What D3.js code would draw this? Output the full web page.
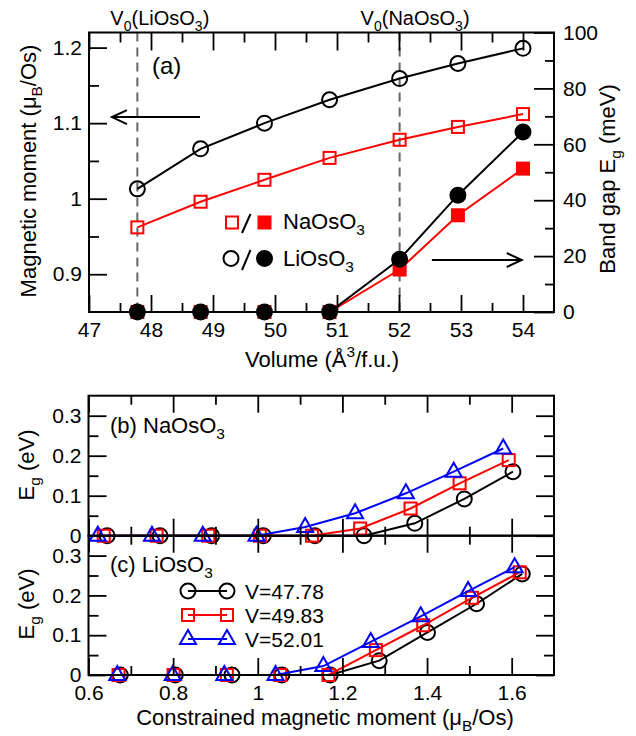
<!DOCTYPE html>
<html>
<head>
<meta charset="utf-8">
<script src="https://cdn.jsdelivr.net/npm/d3@7"></script>
<style>
  body { margin: 0; background: #fff; }
  svg text { font-family: "Liberation Sans", Arial, sans-serif; fill: #000; }
</style>
</head>
<body>
<svg id="chart" width="636" height="736"></svg>
<script>
// panel (a): volume scan
const volume = [47.78, 48.8, 49.83, 50.88, 52.01, 52.95, 54.0];
const momentNa = [0.962, 0.996, 1.025, 1.054, 1.078, 1.095, 1.112];
const momentLi = [1.013, 1.066, 1.100, 1.131, 1.159, 1.179, 1.199];
const gapNa = [0, 0, 0, 0, 15.2, 34.6, 51.3];   // meV
const gapLi = [0, 0, 0, 0, 18.9, 41.8, 64.4];   // meV
const v0Marks = [47.78, 52.01];
const v0Names = ["LiOsO", "NaOsO"];

// panels (b),(c): gap vs constrained moment, three volumes
const volLabels = ["V=47.78", "V=49.83", "V=52.01"];
const naM = [
  [0.644, 0.769, 0.891, 1.013, 1.135, 1.251, 1.371, 1.488, 1.603],
  [0.636, 0.761, 0.883, 1.005, 1.128, 1.242, 1.361, 1.477, 1.593],
  [0.622, 0.750, 0.870, 0.997, 1.112, 1.230, 1.350, 1.463, 1.580]
];
const naGap = [
  [0, 0, 0, 0, 0, 0, 0.031, 0.092, 0.160],
  [0, 0, 0, 0, 0, 0.018, 0.068, 0.131, 0.189],
  [0, 0, 0, 0, 0.022, 0.056, 0.106, 0.160, 0.218]
];
const liM = [
  [0.675, 0.805, 0.939, 1.057, 1.171, 1.287, 1.401, 1.517, 1.625],
  [0.671, 0.801, 0.927, 1.053, 1.167, 1.279, 1.391, 1.506, 1.619],
  [0.668, 0.799, 0.921, 1.042, 1.155, 1.267, 1.385, 1.497, 1.607]
];
const liGap = [
  [0, 0, 0, 0, 0, 0.036, 0.107, 0.179, 0.254],
  [0, 0, 0, 0, 0, 0.0625, 0.125, 0.194, 0.258],
  [0, 0, 0, 0, 0.0225, 0.083, 0.1475, 0.211, 0.271]
];

const colors = ["#000000", "#ff0000", "#0000ff"];
const shapes = ["circle", "square", "triangle"];
const FS = 21;

const svg = d3.select("#chart");
svg.append("rect").attr("width", 636).attr("height", 736).attr("fill", "#fff");

const fmt = d => String(+d.toFixed(2));

// text with sub/superscripts: parts = [[string, kind]]
function rich(sel, parts, size) {
  let shift = 0;
  parts.forEach(([s, k]) => {
    const target = k === "sub" ? 0.28 * size : k === "sup" ? -0.45 * size : 0;
    sel.append("tspan")
      .attr("dy", target - shift)
      .attr("font-size", k === "n" ? size : size * 0.7)
      .text(s);
    shift = target;
  });
  return sel;
}

function marker(g, shape, cx, cy, col, filled) {
  const fill = filled ? col : "none";
  if (shape === "circle") {
    g.append("circle").attr("cx", cx).attr("cy", cy).attr("r", filled ? 7.5 : 7.5)
      .attr("fill", fill).attr("stroke", col).attr("stroke-width", 2);
  } else if (shape === "square") {
    const s = 12;
    g.append("rect").attr("x", cx - s / 2).attr("y", cy - s / 2).attr("width", s).attr("height", s)
      .attr("fill", fill).attr("stroke", col).attr("stroke-width", 2);
  } else {
    g.append("path").attr("d", `M${cx},${cy - 9}L${cx + 8},${cy + 5}L${cx - 8},${cy + 5}Z`)
      .attr("fill", fill).attr("stroke", col).attr("stroke-width", 2);
  }
}

// draw inward ticks with d3 axes
function axis(g, gen, scale, pos, values, size, labels, pad) {
  const a = gen(scale).tickValues(values).tickSize(-size).tickPadding(pad || 6)
    .tickFormat(labels ? fmt : "");
  const ag = g.append("g").attr("transform", pos).call(a);
  ag.select(".domain").remove();
  ag.selectAll(".tick line").attr("stroke", "#000").attr("stroke-width", 1.8);
  ag.selectAll(".tick text").attr("font-size", FS)
    .attr("font-family", "Liberation Sans, Arial, sans-serif").attr("fill", "#000");
  return ag;
}

// ---------------- panel (a) ----------------
const A = { l: 89, r: 554, t: 32.5, b: 312 };
const xA = d3.scaleLinear().domain([47, 54.5]).range([A.l, A.r]);
const yL = d3.scaleLinear().domain([0.85, 1.22]).range([A.b, A.t]);
const yR = d3.scaleLinear().domain([0, 100]).range([A.b, A.t]);
const gA = svg.append("g");

// dashed V0 markers
v0Marks.forEach((v, i) => {
  gA.append("line").attr("x1", xA(v)).attr("x2", xA(v)).attr("y1", A.t).attr("y2", A.b)
    .attr("stroke", "#666").attr("stroke-width", 2).attr("stroke-dasharray", "9,6");
  const t = gA.append("text").attr("x", xA(v) - (i === 0 ? 27 : 39)).attr("y", 25);
  rich(t, [["V", "n"], ["0", "sub"], ["(" + v0Names[i], "n"], ["3", "sub"], [")", "n"]], 20);
});

const lineA = d3.line().x((d, i) => xA(volume[i]));
function seriesA(vals, yS, col, shape, filled) {
  gA.append("path").datum(vals)
    .attr("d", lineA.y(d => yS(d)))
    .attr("fill", "none").attr("stroke", col).attr("stroke-width", 2);
  vals.forEach((v, i) => marker(gA, shape, xA(volume[i]), yS(v), col, filled));
}
seriesA(momentLi, yL, "#000", "circle", false);
seriesA(momentNa, yL, "#ff0000", "square", false);
seriesA(gapNa, yR, "#ff0000", "square", true);
seriesA(gapLi, yR, "#000", "circle", true);

gA.append("rect").attr("x", A.l).attr("y", A.t).attr("width", A.r - A.l).attr("height", A.b - A.t)
  .attr("fill", "none").attr("stroke", "#000").attr("stroke-width", 2);

const xMajA = d3.range(47, 54.5, 1), xMinA = d3.range(47.5, 54.5, 1);
axis(gA, d3.axisBottom, xA, `translate(0,${A.b})`, xMajA, 17, true, 10);
axis(gA, d3.axisBottom, xA, `translate(0,${A.b})`, xMinA, 9, false);
axis(gA, d3.axisTop, xA, `translate(0,${A.t})`, xMajA, 18, false);
axis(gA, d3.axisTop, xA, `translate(0,${A.t})`, xMinA, 10, false);
axis(gA, d3.axisLeft, yL, `translate(${A.l},0)`, [0.9, 1.0, 1.1, 1.2], 18, true, 7);
axis(gA, d3.axisLeft, yL, `translate(${A.l},0)`, [0.95, 1.05, 1.15], 10, false);
axis(gA, d3.axisRight, yR, `translate(${A.r},0)`, d3.range(0, 101, 20), 20, true, 9);
axis(gA, d3.axisRight, yR, `translate(${A.r},0)`, d3.range(10, 100, 20), 9, false);

// arrows
function arrow(x1, x2, y) {
  const dir = x2 > x1 ? -1 : 1;
  gA.append("path")
    .attr("d", `M${x1},${y}L${x2},${y}M${x2 + dir * 15},${y - 7}L${x2},${y}L${x2 + dir * 15},${y + 7}`)
    .attr("fill", "none").attr("stroke", "#000").attr("stroke-width", 2);
}
arrow(xA(48.79), xA(47.37), yL(1.108));
arrow(xA(52.53), xA(53.98), yR(18.6));

gA.append("text").attr("x", 152).attr("y", 74).attr("font-size", 24).text("(a)");

// legend (a)
marker(gA, "square", 232, 222.5, "#ff0000", false);
marker(gA, "square", 264.5, 222.5, "#ff0000", true);
marker(gA, "circle", 231, 258.5, "#000", false);
marker(gA, "circle", 264.5, 258.5, "#000", true);
gA.append("line").attr("x1", 242).attr("y1", 233).attr("x2", 250.5).attr("y2", 214).attr("stroke", "#000").attr("stroke-width", 2);
gA.append("line").attr("x1", 242).attr("y1", 270).attr("x2", 250.5).attr("y2", 250).attr("stroke", "#000").attr("stroke-width", 2);
rich(gA.append("text").attr("x", 283).attr("y", 229), [["NaOsO", "n"], ["3", "sub"]], 22);
rich(gA.append("text").attr("x", 283).attr("y", 266), [["LiOsO", "n"], ["3", "sub"]], 22);

// axis titles (a)
rich(gA.append("text").attr("text-anchor", "middle").attr("transform", "translate(36,171) rotate(-90)"),
  [["Magnetic moment (μ", "n"], ["B", "sub"], ["/Os)", "n"]], 22);
rich(gA.append("text").attr("text-anchor", "middle").attr("transform", "translate(615,179) rotate(-90)"),
  [["Band gap E", "n"], ["g", "sub"], [" (meV)", "n"]], 22);
rich(gA.append("text").attr("text-anchor", "middle").attr("x", 322).attr("y", 367),
  [["Volume (Å", "n"], ["3", "sup"], ["/f.u.)", "n"]], 22);

// ---------------- panels (b), (c) ----------------
const xB = d3.scaleLinear().domain([0.6, 1.7]).range([88.5, 554]);
const panels = [
  { t: 395.7, b: 535.7, m: naM, g: naGap, label: "(b) NaOsO", ty: 433, cy: 465 },
  { t: 535.7, b: 675, m: liM, g: liGap, label: "(c) LiOsO", ty: 572, cy: 604 }
];
panels.forEach((p, pi) => {
  const y = d3.scaleLinear().domain([0, 0.35]).range([p.b, p.t]);
  const g = svg.append("g");
  p.m.forEach((xs, s) => {
    const pts = xs.map((x, i) => [x, p.g[s][i]]);
    g.append("path").datum(pts)
      .attr("d", d3.line().x(d => xB(d[0])).y(d => y(d[1])))
      .attr("fill", "none").attr("stroke", colors[s]).attr("stroke-width", 2);
    pts.forEach(d => marker(g, shapes[s], xB(d[0]), y(d[1]), colors[s], false));
  });
  g.append("rect").attr("x", 88.5).attr("y", p.t).attr("width", 554 - 88.5).attr("height", p.b - p.t)
    .attr("fill", "none").attr("stroke", "#000").attr("stroke-width", 2);
  const xMaj = [0.6, 0.8, 1.0, 1.2, 1.4, 1.6], xMin = [0.7, 0.9, 1.1, 1.3, 1.5];
  axis(g, d3.axisBottom, xB, `translate(0,${p.b})`, xMaj, 17, pi === 1, 10);
  axis(g, d3.axisBottom, xB, `translate(0,${p.b})`, xMin, 9, false);
  axis(g, d3.axisTop, xB, `translate(0,${p.t})`, xMaj, 17, false);
  axis(g, d3.axisTop, xB, `translate(0,${p.t})`, xMin, 9, false);
  axis(g, d3.axisLeft, y, "translate(88.5,0)", [0, 0.1, 0.2, 0.3], 18, true, 7);
  axis(g, d3.axisLeft, y, "translate(88.5,0)", [0.05, 0.15, 0.25], 10, false);
  axis(g, d3.axisRight, y, "translate(554,0)", [0, 0.1, 0.2, 0.3], 18, false);
  axis(g, d3.axisRight, y, "translate(554,0)", [0.05, 0.15, 0.25], 10, false);
  rich(g.append("text").attr("x", 110).attr("y", p.ty), [[p.label, "n"], ["3", "sub"]], 22);
  rich(g.append("text").attr("text-anchor", "middle").attr("transform", `translate(34,${p.cy}) rotate(-90)`),
    [["E", "n"], ["g", "sub"], [" (eV)", "n"]], 22);
});

// legend (c)
const legY = [591, 615, 639];
volLabels.forEach((lab, s) => {
  const g = svg.append("g");
  g.append("line").attr("x1", 188).attr("x2", 227).attr("y1", legY[s]).attr("y2", legY[s])
    .attr("stroke", colors[s]).attr("stroke-width", 2);
  marker(g, shapes[s], 188, legY[s], colors[s], false);
  marker(g, shapes[s], 227, legY[s], colors[s], false);
  g.append("text").attr("x", 245).attr("y", legY[s] + 7.5).attr("font-size", FS).text(lab);
});

rich(svg.append("text").attr("text-anchor", "middle").attr("x", 325).attr("y", 725),
  [["Constrained magnetic moment (μ", "n"], ["B", "sub"], ["/Os)", "n"]], 22);
</script>
</body>
</html>
